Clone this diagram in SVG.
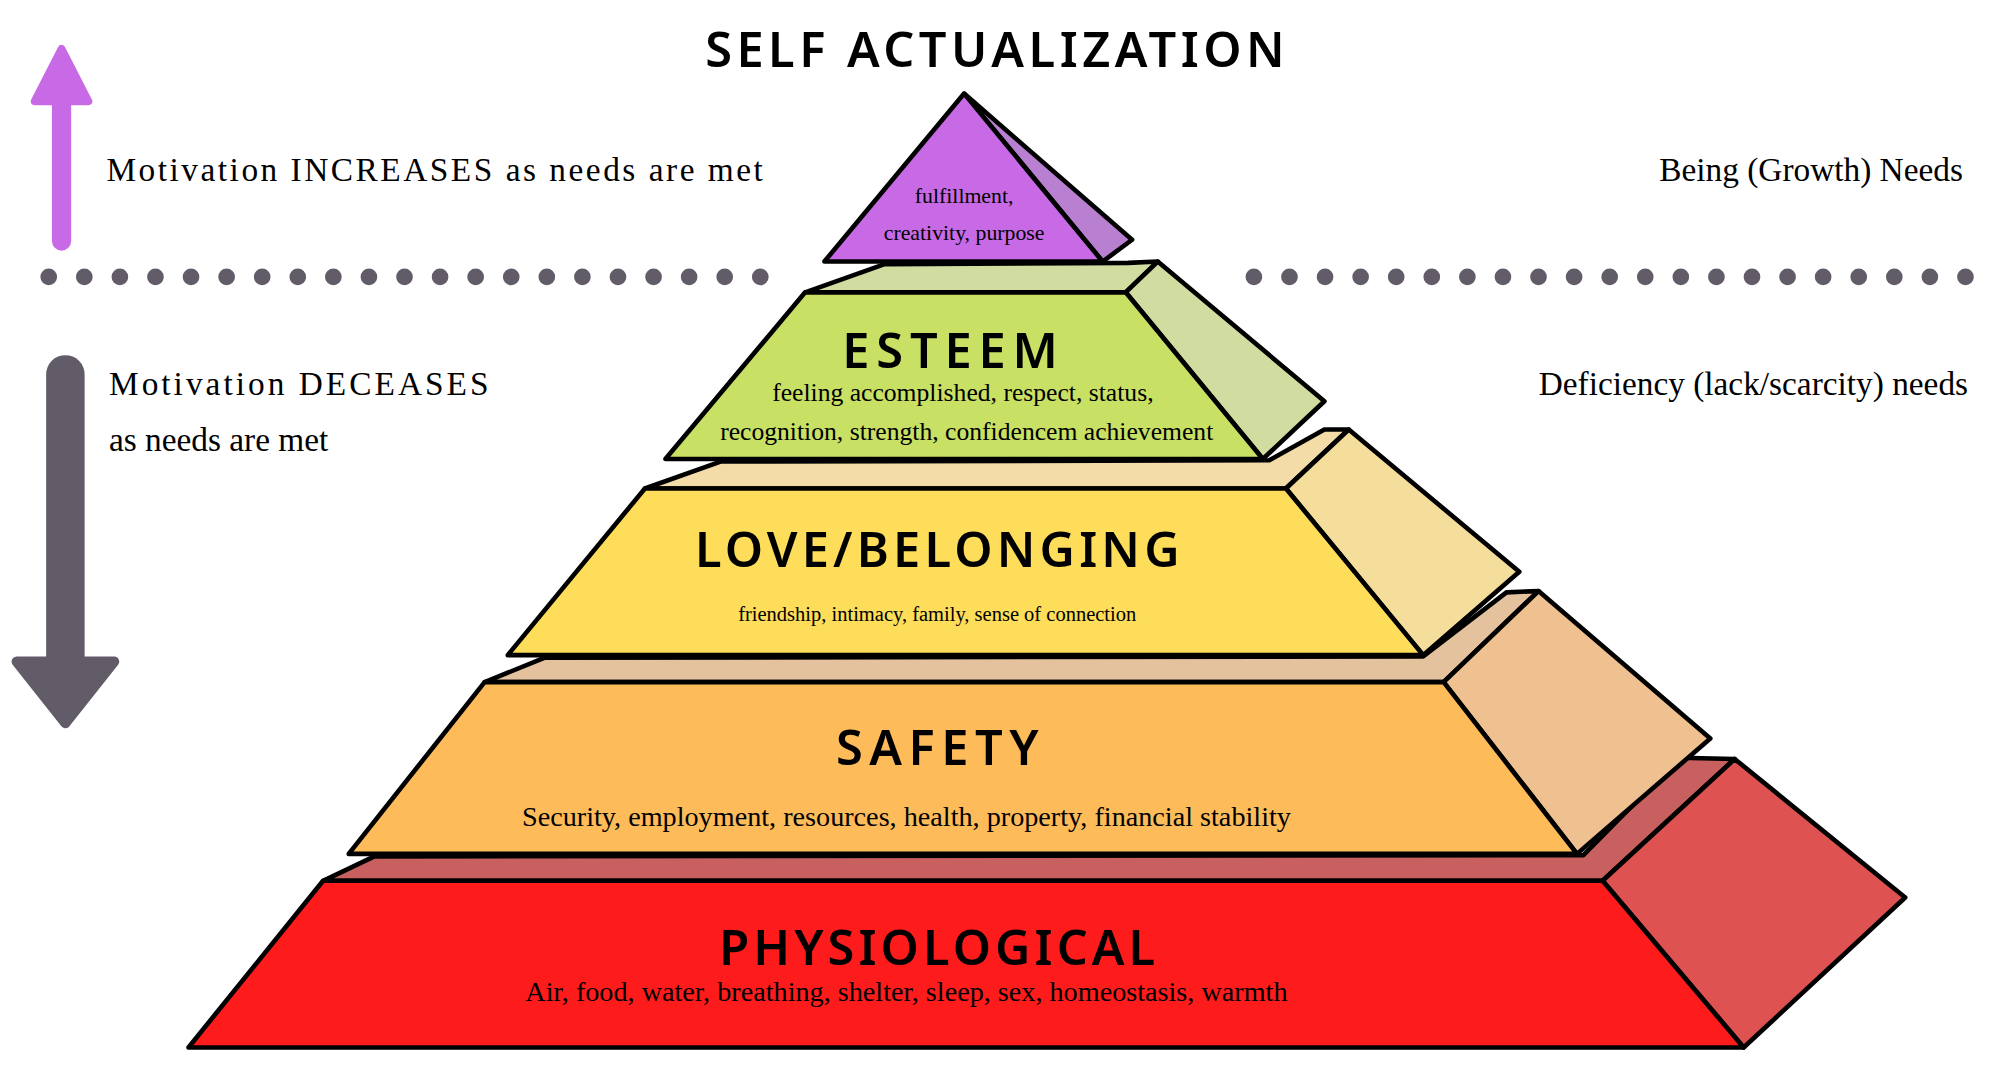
<svg xmlns="http://www.w3.org/2000/svg" width="2000" height="1080" viewBox="0 0 2000 1080">
<style>
.s{stroke:#000;stroke-width:3.6;stroke-linejoin:round}
.h{font-family:"Noto Sans","Liberation Sans",sans-serif;font-weight:600;text-anchor:middle;fill:#000}
.t{font-family:"Liberation Serif",serif;fill:#000}
.m{text-anchor:middle}
.dot{fill:#625b68}
</style>
<rect width="2000" height="1080" fill="#fff"/>
<g transform="scale(1.2821)">
<g id="arrows">
<path d="M48 188 V75" stroke="#c86ae6" stroke-width="15" stroke-linecap="round"/>
<polygon points="27,79 48,38 69,79" fill="#c86ae6" stroke="#c86ae6" stroke-width="6" stroke-linejoin="round"/>
<path d="M51 292 V515" stroke="#625b68" stroke-width="30" stroke-linecap="round"/>
<polygon points="13,516 51,564 89,516" fill="#625b68" stroke="#625b68" stroke-width="8" stroke-linejoin="round"/>
</g>
<g id="dots">
<g class="dot">
<circle cx="38" cy="216" r="6.5"/><circle cx="65.75" cy="216" r="6.5"/><circle cx="93.5" cy="216" r="6.5"/><circle cx="121.25" cy="216" r="6.5"/><circle cx="149" cy="216" r="6.5"/><circle cx="176.75" cy="216" r="6.5"/><circle cx="204.5" cy="216" r="6.5"/><circle cx="232.25" cy="216" r="6.5"/><circle cx="260" cy="216" r="6.5"/><circle cx="287.75" cy="216" r="6.5"/><circle cx="315.5" cy="216" r="6.5"/><circle cx="343.25" cy="216" r="6.5"/><circle cx="371" cy="216" r="6.5"/><circle cx="398.75" cy="216" r="6.5"/><circle cx="426.5" cy="216" r="6.5"/><circle cx="454.25" cy="216" r="6.5"/><circle cx="482" cy="216" r="6.5"/><circle cx="509.75" cy="216" r="6.5"/><circle cx="537.5" cy="216" r="6.5"/><circle cx="565.25" cy="216" r="6.5"/><circle cx="593" cy="216" r="6.5"/>
<circle cx="978" cy="216" r="6.5"/><circle cx="1005.75" cy="216" r="6.5"/><circle cx="1033.5" cy="216" r="6.5"/><circle cx="1061.25" cy="216" r="6.5"/><circle cx="1089" cy="216" r="6.5"/><circle cx="1116.75" cy="216" r="6.5"/><circle cx="1144.5" cy="216" r="6.5"/><circle cx="1172.25" cy="216" r="6.5"/><circle cx="1200" cy="216" r="6.5"/><circle cx="1227.75" cy="216" r="6.5"/><circle cx="1255.5" cy="216" r="6.5"/><circle cx="1283.25" cy="216" r="6.5"/><circle cx="1311" cy="216" r="6.5"/><circle cx="1338.75" cy="216" r="6.5"/><circle cx="1366.5" cy="216" r="6.5"/><circle cx="1394.25" cy="216" r="6.5"/><circle cx="1422" cy="216" r="6.5"/><circle cx="1449.75" cy="216" r="6.5"/><circle cx="1477.5" cy="216" r="6.5"/><circle cx="1505.25" cy="216" r="6.5"/><circle cx="1533" cy="216" r="6.5"/>
</g>
</g>
<g id="side-labels">
<text class="t" x="83" y="141" font-size="26" textLength="512">Motivation INCREASES as needs are met</text>
<text class="t" x="1531" y="141" font-size="26" text-anchor="end">Being (Growth) Needs</text>
<text class="t" x="85" y="308" font-size="26" textLength="296">Motivation DECEASES</text>
<text class="t" x="85" y="352" font-size="26">as needs are met</text>
<text class="t" x="1535" y="308" font-size="26" text-anchor="end">Deficiency (lack/scarcity) needs</text>
</g>
<g id="physiological">
<polygon class="s" points="252,687 292,668 1235,667 1310,591 1353,592 1250,687" fill="#c86060"/>
<polygon class="s" points="1250,687 1353,592 1486,700 1360,817" fill="#de5252"/>
<polygon class="s" points="252,687 1250,687 1360,817 147,817" fill="#fe1b1b"/>
<text class="h" x="731" y="753" font-size="38" textLength="340">PHYSIOLOGICAL</text>
<text class="t m" x="707" y="781" font-size="22">Air, food, water, breathing, shelter, sleep, sex, homeostasis, warmth</text>
</g>
<g id="safety">
<polygon class="s" points="378,532 425,513 1110,512 1175,462 1200,461 1126,532" fill="#e5c29e"/>
<polygon class="s" points="1126,532 1200,461 1334,576 1230,666" fill="#efc190"/>
<polygon class="s" points="378,532 1126,532 1230,666 272,666" fill="#fdbb5a"/>
<text class="h" x="731" y="597" font-size="38" textLength="158">SAFETY</text>
<text class="t m" x="707" y="644" font-size="22">Security, employment, resources, health, property, financial stability</text>
</g>
<g id="love">
<polygon class="s" points="503,381 562,360 990,359 1033,335 1052,335 1003,381" fill="#f3dca8"/>
<polygon class="s" points="1003,381 1052,335 1185,446 1110,511" fill="#f5dd9b"/>
<polygon class="s" points="503,381 1003,381 1110,511 396,511" fill="#fedd5a"/>
<text class="h" x="731" y="442" font-size="38" textLength="378">LOVE/BELONGING</text>
<text class="t m" x="731" y="484" font-size="16">friendship, intimacy, family, sense of connection</text>
</g>
<g id="esteem">
<polygon class="s" points="628,228 690,206 880,205 903,204 878,228" fill="#d0dca0"/>
<polygon class="s" points="878,228 903,204 1033,313 985,358" fill="#d0dca0"/>
<polygon class="s" points="628,228 878,228 985,358 519,358" fill="#c8e064"/>
<text class="h" x="741" y="287" font-size="38" textLength="168">ESTEEM</text>
<text class="t m" x="751" y="313" font-size="20">feeling accomplished, respect, status,</text>
<text class="t m" x="754" y="343" font-size="20">recognition, strength, confidencem achievement</text>
</g>
<g id="self-actualization">
<polygon class="s" points="752,73 883,187 860,204" fill="#b97fd0"/>
<polygon class="s" points="752,73 860,204 643,204" fill="#c86ae6"/>
<text class="t m" x="752" y="158" font-size="17">fulfillment,</text>
<text class="t m" x="752" y="187" font-size="17">creativity, purpose</text>
<text class="h" x="776" y="52" font-size="38" textLength="452">SELF ACTUALIZATION</text>
</g>
</g>
</svg>
